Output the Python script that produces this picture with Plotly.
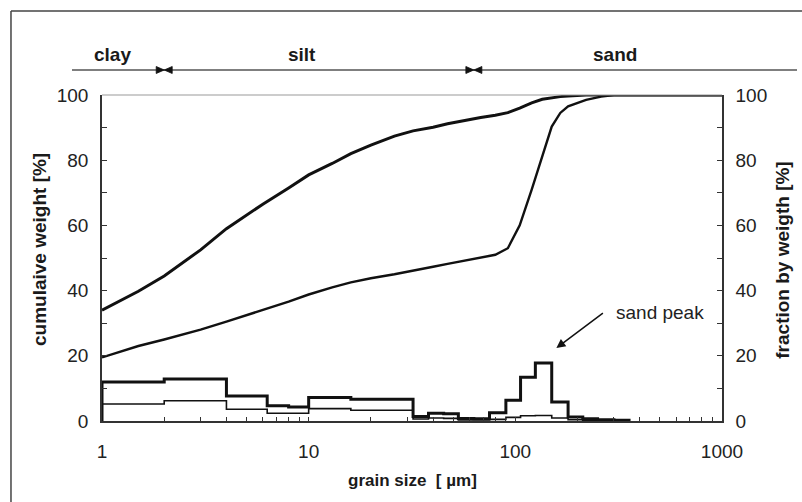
import math
import plotly.graph_objects as go

# Cumulative grain-size curves (grain size in µm, cumulative weight in %)
cum_size = [1, 1.5, 2, 3, 4, 6, 8, 10, 13, 16, 20, 26, 32, 40, 47, 55, 68, 80, 92,
            105, 120, 135, 150, 165, 180, 220, 260, 300, 1000]
cum_fine = [34, 39.8, 44.5, 52.5, 59, 66.5, 71.5, 75.5, 79, 82, 84.6, 87.4, 89, 90.1,
            91.2, 92.1, 93.1, 93.8, 94.6, 96, 97.6, 98.7, 99.2, 99.5, 99.7, 100, 100, 100, 100]
cum_peak = [19.5, 23, 25, 28, 30.5, 34, 36.6, 38.8, 41, 42.5, 43.8, 45, 46, 47.3,
            48.2, 49, 50, 51, 53, 60, 71, 81, 90.3, 94.5, 96.5, 98.5, 99.5, 100, 100]

# Fraction per size class (bin edges in µm, fraction in %)
bin_edges = [1, 2, 4, 6.3, 8, 10, 16, 32, 38, 45, 53, 63, 75, 90, 106, 125, 150, 180,
             212, 250, 300, 355]
frac_peak = [12.0, 12.9, 7.7, 4.7, 4.3, 7.2, 6.7, 1.4, 2.4, 2.2, 0.8, 0.7, 2.5, 6.4,
             13.4, 17.8, 5.8, 1.2, 0.7, 0.4, 0.2]
frac_fine = [5.2, 6.2, 3.6, 2.4, 2.4, 3.8, 3.3, 0.6, 0.9, 0.8, 0.3, 0.3, 0.5, 1.1,
             1.6, 1.7, 0.9, 0.4, 0.2, 0.1, 0.0]

# Particle classes along the top
class_names = ["clay", "silt", "sand"]
class_label_pos = [1.13, 9.3, 305]
class_bounds = [2, 63]

x_ticks = [1, 10, 100, 1000]
x_minor = [m * d for d in (1, 10, 100) for m in range(2, 10)]
X_RANGE = [0, 3]  # log10 range of the grain-size axis

FONT = "Liberation Sans, Arial, sans-serif"
INK = "#111111"
AXIS = "#333333"
BAND_Y = 1.0767  # paper height of the class band line


def step_xy(edges, values):
    xs = [edges[0]] + list(edges)
    ys = [0] + list(values) + [0]
    return xs, ys


fig = go.Figure()

for vals, width in ((frac_fine, 1.6), (frac_peak, 3.0)):
    sx, sy = step_xy(bin_edges, vals)
    fig.add_trace(go.Scatter(x=sx, y=sy, mode="lines", line_shape="hv",
                             line=dict(color=INK, width=width), yaxis="y2",
                             showlegend=False, hoverinfo="skip"))

fig.add_trace(go.Scatter(x=cum_size, y=cum_peak, mode="lines",
                         line=dict(color=INK, width=2.4), showlegend=False))
fig.add_trace(go.Scatter(x=cum_size, y=cum_fine, mode="lines",
                         line=dict(color=INK, width=3.0), showlegend=False))

tick_font = dict(family=FONT, size=19, color="#222222")
yaxis_common = dict(range=[0, 100], dtick=20, ticks="inside", ticklen=5, tickwidth=1,
                    tickcolor=AXIS, showline=True, linecolor=AXIS, linewidth=1.5,
                    showgrid=False, zeroline=False, tickfont=tick_font,
                    ticklabelstandoff=8,
                    minor=dict(dtick=10, ticks="inside", ticklen=5, tickcolor=AXIS))

fig.update_layout(
    width=802, height=502,
    margin=dict(l=102, r=80, t=95, b=81),
    paper_bgcolor="white", plot_bgcolor="white",
    xaxis=dict(type="log", range=X_RANGE, tickvals=x_ticks, ticktext=[str(v) for v in x_ticks],
               ticks="inside", ticklen=4, tickcolor=AXIS, showline=True, linecolor=AXIS,
               linewidth=1.5, showgrid=False, zeroline=False, tickfont=tick_font,
               ticklabelstandoff=12,
               minor=dict(tickvals=x_minor, ticks="inside", ticklen=4, tickcolor=AXIS)),
    yaxis=yaxis_common,
    yaxis2=dict(yaxis_common, overlaying="y", side="right", anchor="x"),
)

title_font = dict(family=FONT, size=19, color="#1a1a1a")
ann = [
    dict(text="<b>cumulaive weight [%]</b>", x=-0.1016, y=0.5245, xref="paper", yref="paper",
         xanchor="center", yanchor="middle", textangle=-90, showarrow=False, font=title_font),
    dict(text="<b>fraction by weigth [%]</b>", x=1.098, y=0.494, xref="paper", yref="paper",
         xanchor="center", yanchor="middle", textangle=-90, showarrow=False, font=title_font),
    dict(text="<b>grain size  [ µm]</b>", x=0.5, y=-0.184, xref="paper", yref="paper",
         xanchor="center", yanchor="middle", showarrow=False, font=dict(title_font, size=17)),
    # sand peak label and arrow
    dict(text="sand peak", x=math.log10(500), y=33.4, xref="x", yref="y2",
         xanchor="center", yanchor="middle", showarrow=False,
         font=dict(family=FONT, size=19, color="#222222")),
    dict(text="", x=math.log10(158), y=22.4, xref="x", yref="y2", showarrow=True,
         ax=48, ay=-36, arrowhead=2, arrowsize=1.2, arrowwidth=1.5, arrowcolor=INK),
]
for name, pos in zip(class_names, class_label_pos):
    ann.append(dict(text=f"<b>{name}</b>", x=math.log10(pos), y=1.1227, xref="x",
                    yref="paper", xanchor="center", yanchor="middle", showarrow=False,
                    font=dict(family=FONT, size=19, color="#1a1a1a")))
fig.update_layout(annotations=ann)

shapes = [
    # top edge of the plot area
    dict(type="line", xref="paper", yref="paper", x0=0, x1=1, y0=1, y1=1,
         line=dict(color="#9a9a9a", width=1.2)),
    # class band line
    dict(type="line", xref="paper", yref="paper", x0=-0.0484, x1=1.121, y0=BAND_Y, y1=BAND_Y,
         line=dict(color="#555555", width=1.5)),
    # outer frame (left and top)
    dict(type="line", xref="paper", yref="paper", x0=-0.1468, x1=-0.1468, y0=-0.26, y1=1.2577,
         line=dict(color="#444444", width=1.5)),
    dict(type="line", xref="paper", yref="paper", x0=-0.1468, x1=1.14, y0=1.2577, y1=1.2577,
         line=dict(color="#444444", width=1.5)),
]
# ▶◀ marks at the class boundaries
span = X_RANGE[1] - X_RANGE[0]
for b in class_bounds:
    fx = (math.log10(b) - X_RANGE[0]) / span
    shapes.append(dict(type="path", xref="paper", yref="paper",
                       xsizemode="pixel", ysizemode="pixel", xanchor=fx, yanchor=BAND_Y,
                       path="M-8,-3.5 L0,0 L-8,3.5 Z M8,-3.5 L0,0 L8,3.5 Z",
                       fillcolor=INK, line=dict(color=INK, width=0.8)))
fig.update_layout(shapes=shapes)

fig.write_html("out.html")
